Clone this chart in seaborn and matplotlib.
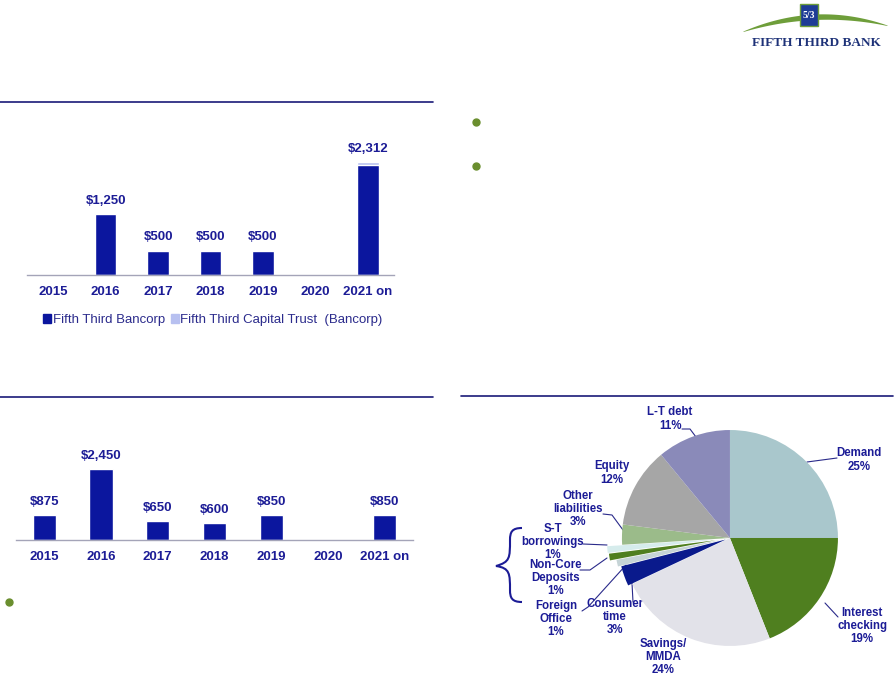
import numpy as np
import matplotlib
matplotlib.use("Agg")
import matplotlib.pyplot as plt
import pandas as pd
import seaborn as sns
from matplotlib.patches import Patch, Rectangle, PathPatch
from matplotlib.path import Path

# data
years = ["2015", "2016", "2017", "2018", "2019", "2020", "2021 on"]
bancorp = [0, 1250, 500, 500, 500, 0, 2250]
capital_trust = [0, 0, 0, 0, 0, 0, 62]
bank = [875, 2450, 650, 600, 850, 0, 850]

pie_names = ["Demand", "Interest\nchecking", "Savings/\nMMDA", "Consumer\ntime", "Foreign\nOffice",
             "Non-Core\nDeposits", "S-T\nborrowings", "Other\nliabilities", "Equity", "L-T debt"]
pie_shares = [25, 19, 24, 3, 1, 1, 1, 3, 12, 11]
pie_colors = ["#A9C7CC", "#4F7F1F", "#E2E2E9", "#0A1A8C", "#C6D4D6",
              "#4F7F1F", "#D6ECEC", "#9BBB8A", "#A6A6A6", "#8A8AB9"]
pie_explode = [0, 0, 0, 0.04, 0.07, 0.13, 0.14, 0, 0, 0]

NAVY = "#0B169E"
LIGHT = "#B7C0F0"
TEXT = "#1C1C96"
RULE = "#1A1A78"
GREEN_DOT = "#6A8E2E"

sns.set_theme(style="white")
plt.rcParams["font.family"] = ["Liberation Sans", "DejaVu Sans"]

fig = plt.figure(figsize=(8.94, 6.75), dpi=100)
W, H = 894, 675

# overlay in pixel coords for rules, bullets, logo, brace, pie labels
ov = fig.add_axes([0, 0, 1, 1])
ov.set_xlim(0, W)
ov.set_ylim(H, 0)
ov.axis("off")


def px_rect(x0, y0, x1, y1):
    return [x0 / W, 1 - y1 / H, (x1 - x0) / W, (y1 - y0) / H]


def bar_panel(rect, values, stack=None, ymax=3000):
    ax = fig.add_axes(rect)
    values = np.array(values)
    total = values if stack is None else values + np.array(stack)
    if stack is not None:
        sns.barplot(x=years, y=total, color=LIGHT, width=0.41, saturation=1, ax=ax)
    df = pd.DataFrame({"year": years, "value": values})
    sns.barplot(data=df, x="year", y="value", color=NAVY, width=0.41, saturation=1, ax=ax)
    for i, v in enumerate(total):
        if v > 0:
            ax.annotate(f"${v:,}", (i, v), xytext=(0, 13), textcoords="offset pixels",
                        ha="center", va="center", fontsize=9.5, fontweight="bold", color=TEXT)
    ax.set_xlim(-0.5, len(years) - 0.5)
    ax.set_ylim(0, ymax)
    ax.set_yticks([])
    ax.set_xlabel("")
    ax.set_ylabel("")
    for s in ["top", "left", "right"]:
        ax.spines[s].set_visible(False)
    ax.spines["bottom"].set_color("#A4A4B8")
    ax.spines["bottom"].set_linewidth(1)
    ax.set_xticks(np.arange(-0.5, len(years)), minor=True)
    ax.tick_params(axis="x", which="minor", length=4, width=1, color="#A4A4B8", direction="out")
    ax.tick_params(axis="x", which="major", length=0, pad=8)
    for lab in ax.get_xticklabels():
        lab.set_fontweight("bold")
        lab.set_fontsize(9.5)
        lab.set_color(TEXT)
    ax.patch.set_alpha(0)
    return ax


ax1 = bar_panel(px_rect(27, 128, 394, 275), bancorp, capital_trust)
ax2 = bar_panel(px_rect(16, 453, 413, 540), bank)

fig.legend(handles=[Patch(color=NAVY, label="Fifth Third Bancorp"),
                    Patch(color=LIGHT, label="Fifth Third Capital Trust  (Bancorp)")],
           loc="center", bbox_to_anchor=(213 / W, 1 - 320 / H), ncol=2, frameon=False,
           handlelength=0.6, handleheight=0.6, handletextpad=0.1, columnspacing=0.5,
           prop={"size": 9.5}, labelcolor="#2B2B8C")

# pie
axp = fig.add_axes(px_rect(462, 400, 894, 675))
axp.pie(pie_shares, colors=pie_colors, startangle=90, counterclock=False,
        explode=pie_explode, wedgeprops=dict(linewidth=0))
axp.set_xlim(-2.481, 1.519)
axp.set_ylim(-1.269, 1.278)
axp.set_aspect("auto")

label_pos = [(859, 460), (862, 626), (663, 657), (615, 617), (556, 619),
             (556, 578), (553, 542), (578, 509), (612, 473), (670, 419)]
for name, share, (x, y) in zip(pie_names, pie_shares, label_pos):
    ov.text(x, y, f"{name}\n{share}%", ha="center", va="center", fontsize=8.3,
            fontweight="bold", color=TEXT, linespacing=1.12)

leaders = [
    [(807, 462), (837, 458)],
    [(825, 603), (838, 617)],
    [(632, 583), (633, 602)],
    [(582, 611), (588, 607), (626, 565)],
    [(580, 570), (590, 570), (607, 558)],
    [(583, 544), (607, 545)],
    [(603, 514), (612, 515), (623, 530)],
    [(682, 429), (690, 429), (696, 437)],
]
for pts in leaders:
    xs, ys = zip(*pts)
    ov.plot(xs, ys, color="#2A2A8A", lw=0.8)

# brace
verts = [(522, 528), (512, 528), (510, 532), (510, 540),
         (510, 558), (510, 562), (496, 566),
         (510, 568), (510, 574), (510, 590),
         (510, 598), (512, 602), (522, 602)]
codes = [Path.MOVETO, Path.CURVE4, Path.CURVE4, Path.LINETO,
         Path.CURVE4, Path.CURVE4, Path.LINETO,
         Path.CURVE4, Path.CURVE4, Path.LINETO,
         Path.CURVE4, Path.CURVE4, Path.CURVE4]
ov.add_patch(PathPatch(Path(verts, codes), fill=False, edgecolor=TEXT, lw=1.5))

# rules
ov.plot([0, 433], [102, 102], color=RULE, lw=1.2)
ov.plot([0, 433], [397, 397], color=RULE, lw=1.2)
ov.plot([461, 893], [396, 396], color=RULE, lw=1.2)

# bullets
ov.plot([476, 476, 9], [122, 166, 602], "o", color=GREEN_DOT, markersize=5)

# logo
t = np.linspace(-1, 1, 100)
lx = 815 + 72 * t
ov.fill_between(lx, 28 - 14 * (1 - t ** 2) - 3 * t, 28 - 9 * (1 - t ** 2) - 3 * t + 0.5,
                color="#6E9E3A", lw=0)
ov.add_patch(Rectangle((800, 4), 18, 22, facecolor="#1E3C96", edgecolor="#6E9E3A", lw=1))
ov.text(809, 15, "5/3", ha="center", va="center", fontsize=7, fontweight="bold",
        color="white", family=["Liberation Serif", "DejaVu Serif"])
ov.text(816, 43, "FIFTH THIRD BANK", ha="center", va="center", fontsize=9.5,
        fontweight="bold", color="#1E3278", family=["Liberation Serif", "DejaVu Serif"])

fig.savefig("out.png", dpi=100)
